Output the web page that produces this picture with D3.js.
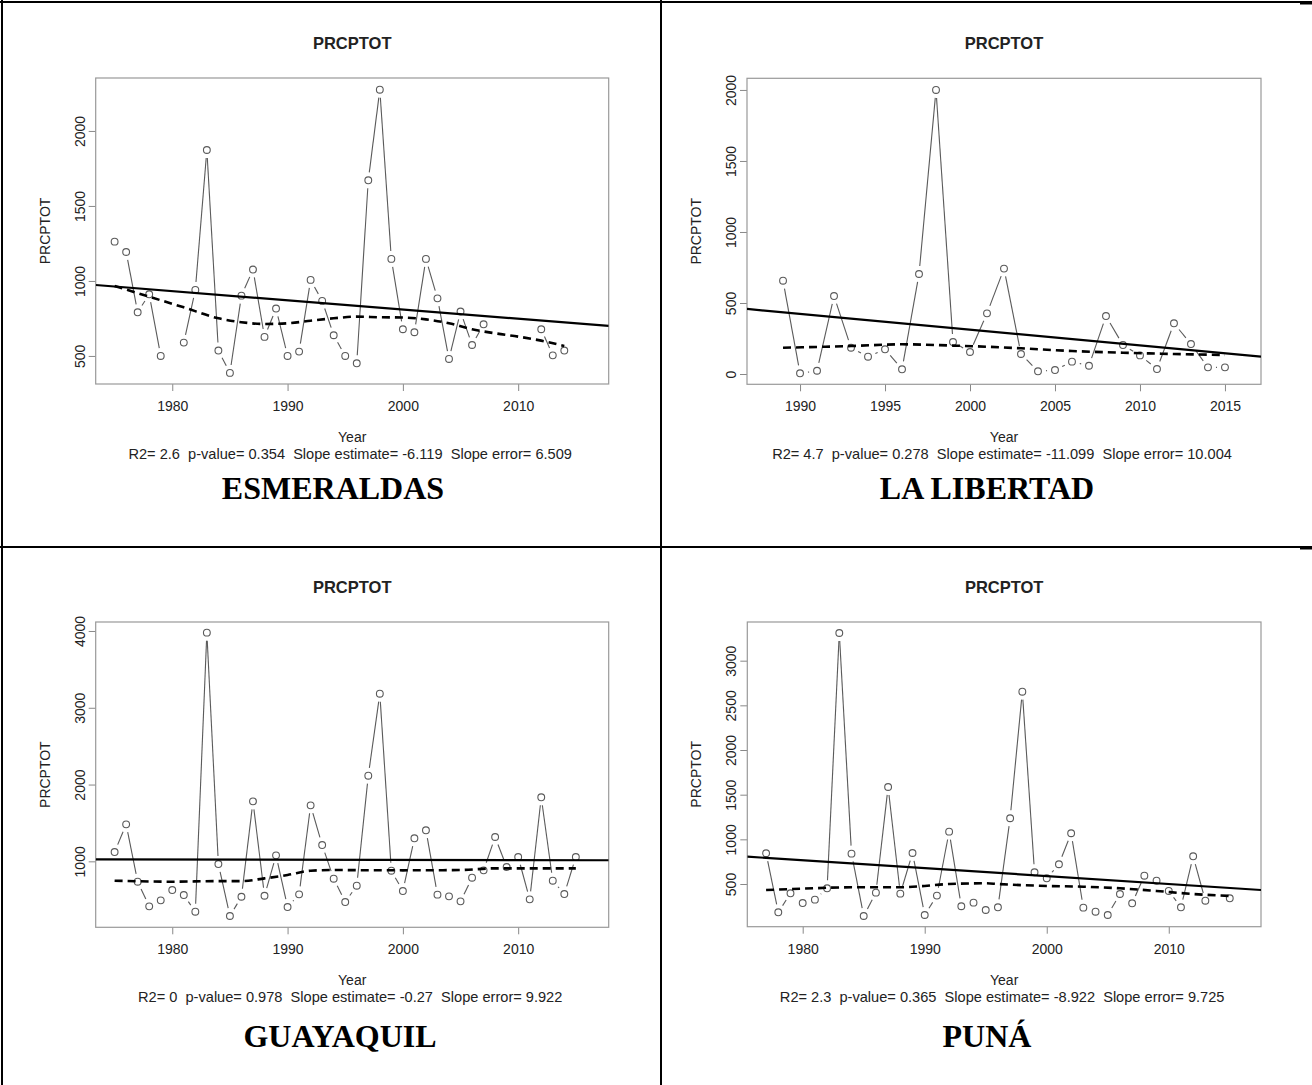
<!DOCTYPE html>
<html lang="en">
<head>
<meta charset="utf-8">
<title>PRCPTOT</title>
<script src="https://cdn.jsdelivr.net/npm/d3@7"></script>
<style>
body{margin:0;background:#fff}
svg{display:block}
.stat{white-space:pre}
</style>
</head>
<body>
<script>

// ---- data (null = missing year) ----
var yearsEsm = [1975,1976,1977,1978,1979,1980,1981,1982,1983,1984,1985,1986,1987,1988,1989,1990,1991,1992,1993,1994,
  1995,1996,1997,1998,1999,2000,2001,2002,2003,2004,2005,2006,2007,2008,2009,2010,2011,2012,2013,2014];
var prcpEsm = [1262,1193,791,911,500,null,589,940,1873,536,387,902,1076,627,816,500,529,1007,867,638,
  500,451,1671,2275,1147,678,658,1147,884,480,796,573,711,null,null,null,null,678,504,536];

var yearsLib = [1989,1990,1991,1992,1993,1994,1995,1996,1997,1998,1999,2000,2001,2002,2003,2004,2005,2006,2007,2008,
  2009,2010,2011,2012,2013,2014,2015];
var prcpLib = [657,5,23,549,185,122,174,33,704,2000,225,155,427,742,141,19,28,87,58,408,
  204,131,35,357,211,47,47];

var yearsGye = [1975,1976,1977,1978,1979,1980,1981,1982,1983,1984,1985,1986,1987,1988,1989,1990,1991,1992,1993,1994,
  1995,1996,1997,1998,1999,2000,2001,2002,2003,2004,2005,2006,2007,2008,2009,2010,2011,2012,2013,2014,2015];
var prcpGye = [1121,1482,735,414,492,626,561,344,3978,965,288,539,1781,552,1078,405,570,1729,1212,774,
  470,683,2115,3183,878,613,1300,1404,566,544,479,787,883,1317,926,1056,505,1834,748,574,1056];

var yearsPuna = [1977,1978,1979,1980,1981,1982,1983,1984,1985,1986,1987,1988,1989,1990,1991,1992,1993,1994,1995,1996,
  1997,1998,1999,2000,2001,2002,2003,2004,2005,2006,2007,2008,2009,2010,2011,2012,2013,2014,2015];
var prcpPuna = [844,183,396,287,325,452,3310,840,142,403,1586,392,847,153,370,1086,251,291,209,239,
  1236,2653,631,564,721,1068,235,190,153,388,284,593,537,422,239,810,313,null,340];

// smoothed curve (dashed), [year, value]
var smoothEsm = [[1975,967],[1978,895],[1981,824],[1984,751],[1986,725],[1988,713],[1990,718],[1992,735],[1994,751],
  [1996,762],[1998,758],[2000,756],[2002,744],[2004,718],[2006,678],[2008,651],[2010,629],[2012,602],[2014,567]];
var smoothLib = [[1989,185],[1993,197],[1996,209],[1999,200],[2001,192],[2003,181],[2006,162],[2009,150],[2012,141],[2015,134]];
var smoothGye = [[1975,748],[1980,735],[1984,743],[1986,743],[1988,778],[1990,822],[1992,878],[1994,887],[1996,885],
  [2000,883],[2005,887],[2008,909],[2012,909],[2015,909]];
var smoothPuna = [[1977,433],[1980,448],[1984,463],[1988,463],[1990,478],[1992,500],[1995,508],[1996,500],[2000,478],
  [2003,470],[2006,452],[2009,422],[2012,388],[2015,366]];

// linear trend value at the left and right edge of the x range
var trendEsm = [973,700];
var trendLib = [458,122];
var trendGye = [1026,1014];
var trendPuna = [806,433];

// axis ranges and ticks
var xDomEsm = [1973.36,2017.85], yDomEsm = [313,2353];
var xDomLib = [1986.88,2017.12], yDomLib = [-72.5,2082];
var xDomGye = [1973.36,2017.85], yDomGye = [141,4117];
var xDomPuna = [1975.46,2017.56], yDomPuna = [22,3433];

var xTicksEsm = [1980,1990,2000,2010], yTicksEsm = [500,1000,1500,2000];
var xTicksLib = [1990,1995,2000,2005,2010,2015], yTicksLib = [0,500,1000,1500,2000];
var xTicksGye = [1980,1990,2000,2010], yTicksGye = [1000,2000,3000,4000];
var xTicksPuna = [1980,1990,2000,2010], yTicksPuna = [500,1000,1500,2000,2500,3000];

var stats = [
  "R2= 2.6  p-value= 0.354  Slope estimate= -6.119  Slope error= 6.509",
  "R2= 4.7  p-value= 0.278  Slope estimate= -11.099  Slope error= 10.004",
  "R2= 0  p-value= 0.978  Slope estimate= -0.27  Slope error= 9.922",
  "R2= 2.3  p-value= 0.365  Slope estimate= -8.922  Slope error= 9.725"
];
var stations = ["ESMERALDAS","LA LIBERTAD","GUAYAQUIL","PUNÁ"];

// ---- layout ----
var panels = [
  {years:yearsEsm, vals:prcpEsm, smooth:smoothEsm, trend:trendEsm, xd:xDomEsm, yd:yDomEsm, xt:xTicksEsm, yt:yTicksEsm,
   box:[95.7,78,608.7,384], titleY:49, cellX:333, nameY:499},
  {years:yearsLib, vals:prcpLib, smooth:smoothLib, trend:trendLib, xd:xDomLib, yd:yDomLib, xt:xTicksLib, yt:yTicksLib,
   box:[747,78.3,1261,384.3], titleY:49, cellX:987, nameY:499},
  {years:yearsGye, vals:prcpGye, smooth:smoothGye, trend:trendGye, xd:xDomGye, yd:yDomGye, xt:xTicksGye, yt:yTicksGye,
   box:[95.7,622,608.7,927.3], titleY:593, cellX:340, nameY:1047},
  {years:yearsPuna, vals:prcpPuna, smooth:smoothPuna, trend:trendPuna, xd:xDomPuna, yd:yDomPuna, xt:xTicksPuna, yt:yTicksPuna,
   box:[747.3,622,1261,926.7], titleY:593, cellX:987, nameY:1047}
];

var W = 1312, H = 1085;
var svg = d3.select("body").append("svg").attr("width", W).attr("height", H);

var sans = "Liberation Sans, Arial, sans-serif";
var serif = "Liberation Serif, Times New Roman, serif";
var fs = 14;
var gap = 8;   // gap around points on type="b" lines

// table lines
var tbl = svg.append("g").attr("stroke","#000").attr("stroke-width",2);
tbl.append("line").attr("x1",0).attr("x2",W).attr("y1",2).attr("y2",2);
tbl.append("line").attr("x1",0).attr("x2",W).attr("y1",547).attr("y2",547);
tbl.append("line").attr("x1",2).attr("x2",2).attr("y1",0).attr("y2",H);
tbl.append("line").attr("x1",661).attr("x2",661).attr("y1",0).attr("y2",H);
tbl.append("line").attr("x1",1300).attr("x2",W).attr("y1",3).attr("y2",3).attr("stroke-width",3);
tbl.append("line").attr("x1",1300).attr("x2",W).attr("y1",548).attr("y2",548).attr("stroke-width",3);

panels.forEach(function(p, i) {
  var b = p.box;
  var x = d3.scaleLinear().domain(p.xd).range([b[0], b[2]]);
  var y = d3.scaleLinear().domain(p.yd).range([b[3], b[1]]);
  var g = svg.append("g");

  g.append("clipPath").attr("id","clip"+i).append("rect")
    .attr("x",b[0]).attr("y",b[1]).attr("width",b[2]-b[0]).attr("height",b[3]-b[1]);

  // axes
  var xAxis = d3.axisBottom(x).tickValues(p.xt).tickFormat(d3.format("d")).tickSize(7).tickSizeOuter(0);
  var yAxis = d3.axisLeft(y).tickValues(p.yt).tickFormat(d3.format("d")).tickSize(7).tickSizeOuter(0);
  var gx = g.append("g").attr("transform","translate(0,"+b[3]+")").call(xAxis);
  var gy = g.append("g").attr("transform","translate("+b[0]+",0)").call(yAxis);
  gx.select(".domain").remove();
  gy.select(".domain").remove();
  g.selectAll(".tick line").attr("stroke","#888");
  gx.selectAll("text").attr("y",17).attr("dy","0.71em")
    .attr("font-family",sans).attr("font-size",fs).attr("fill","#222");
  gy.selectAll("text")
    .attr("x",0).attr("dy",0).attr("text-anchor","middle")
    .attr("transform","translate(-11,0) rotate(-90)")
    .attr("font-family",sans).attr("font-size",fs).attr("fill","#222");

  g.append("rect").attr("x",b[0]).attr("y",b[1]).attr("width",b[2]-b[0]).attr("height",b[3]-b[1])
    .attr("fill","none").attr("stroke","#999").attr("stroke-width",1.2);

  // points with broken connecting lines
  var pts = p.years.map(function(yr, k){ return {yr:yr, v:p.vals[k]}; });
  var segs = [];
  for (var k = 1; k < pts.length; k++) {
    var a = pts[k-1], c = pts[k];
    if (a.v == null || c.v == null) continue;
    var x1 = x(a.yr), y1 = y(a.v), x2 = x(c.yr), y2 = y(c.v);
    var len = Math.hypot(x2-x1, y2-y1);
    if (len <= 2*gap) continue;
    var ux = (x2-x1)/len, uy = (y2-y1)/len;
    segs.push([x1+ux*gap, y1+uy*gap, x2-ux*gap, y2-uy*gap]);
  }
  g.append("g").selectAll("line").data(segs).enter().append("line")
    .attr("x1",function(d){return d[0];}).attr("y1",function(d){return d[1];})
    .attr("x2",function(d){return d[2];}).attr("y2",function(d){return d[3];})
    .attr("stroke","#5a5a5a").attr("stroke-width",1.1);

  g.append("g").selectAll("circle").data(pts.filter(function(d){return d.v != null;})).enter().append("circle")
    .attr("cx",function(d){return x(d.yr);}).attr("cy",function(d){return y(d.v);})
    .attr("r",3.4).attr("fill","none").attr("stroke","#5a5a5a").attr("stroke-width",1.1);

  // trend and smoother
  var clip = g.append("g").attr("clip-path","url(#clip"+i+")");
  clip.append("line")
    .attr("x1",x(p.xd[0])).attr("y1",y(p.trend[0]))
    .attr("x2",x(p.xd[1])).attr("y2",y(p.trend[1]))
    .attr("stroke","#000").attr("stroke-width",2.2);
  var sm = d3.line().x(function(d){return x(d[0]);}).y(function(d){return y(d[1]);}).curve(d3.curveMonotoneX);
  clip.append("path").attr("d",sm(p.smooth))
    .attr("fill","none").attr("stroke","#000").attr("stroke-width",2.6).attr("stroke-dasharray","8,5");

  // texts
  var cx = (b[0]+b[2])/2;
  g.append("text").attr("x",cx).attr("y",p.titleY).attr("text-anchor","middle")
    .attr("font-family",sans).attr("font-weight","bold").attr("font-size",16.5).attr("fill","#222")
    .text("PRCPTOT");
  g.append("text").attr("transform","translate("+(b[0]-46)+","+((b[1]+b[3])/2)+") rotate(-90)")
    .attr("text-anchor","middle").attr("font-family",sans).attr("font-size",fs).attr("fill","#222")
    .text("PRCPTOT");
  g.append("text").attr("x",cx).attr("y",b[3]+58).attr("text-anchor","middle")
    .attr("font-family",sans).attr("font-size",fs).attr("fill","#222").text("Year");
  g.append("text").attr("class","stat").attr("x",cx-2).attr("y",b[3]+75).attr("text-anchor","middle")
    .attr("font-family",sans).attr("font-size",14.6).attr("fill","#222").text(stats[i]);
  g.append("text").attr("x",p.cellX).attr("y",p.nameY).attr("text-anchor","middle")
    .attr("font-family",serif).attr("font-weight","bold").attr("font-size",32).attr("fill","#000")
    .text(stations[i]);
});

</script>
</body>
</html>
